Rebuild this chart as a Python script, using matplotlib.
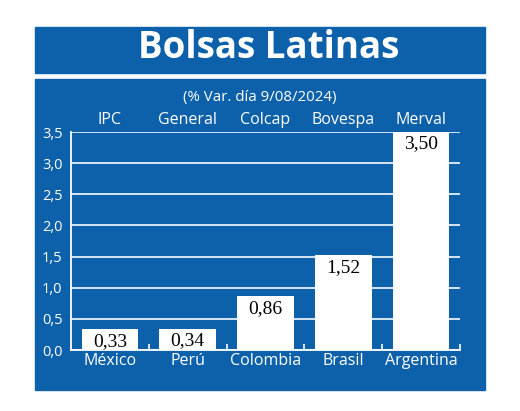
import matplotlib
matplotlib.use("Agg")
import matplotlib.pyplot as plt
from matplotlib.patches import Rectangle

countries = ["México", "Perú", "Colombia", "Brasil", "Argentina"]
indices = ["IPC", "General", "Colcap", "Bovespa", "Merval"]
values = [0.33, 0.34, 0.86, 1.52, 3.50]
yticks = [0.0, 0.5, 1.0, 1.5, 2.0, 2.5, 3.0, 3.5]
title = "Bolsas Latinas"
subtitle = "(% Var. día 9/08/2024)"

BLUE = "#0D61AB"
W, H = 520, 411
fig = plt.figure(figsize=(W / 100, H / 100), dpi=100, facecolor="white")

def fx(x):
    return x / W

def fy(y):
    return 1 - y / H

# background panels
fig.patches.append(Rectangle((fx(35), fy(73)), fx(485) - fx(35), fy(27) - fy(73),
                             transform=fig.transFigure, color=BLUE, zorder=-5))
fig.patches.append(Rectangle((fx(35), fy(390)), fx(485) - fx(35), fy(79) - fy(390),
                             transform=fig.transFigure, color=BLUE, zorder=-5))

fig.text(fx(269), fy(48), title, color="white", fontsize=26.5, fontweight="bold",
         family="Open Sans", ha="center", va="center")
fig.text(fx(260), fy(98), subtitle, color="white", fontsize=10.8,
         family="Open Sans", ha="center", va="center")

ax = fig.add_axes([fx(71), fy(350), fx(460) - fx(71), fy(132) - fy(350)])
ax.set_facecolor("none")
x = list(range(len(values)))
ax.bar(x, values, width=0.73, color="white", zorder=3)
ax.set_xlim(-0.5, 4.5)
ax.set_ylim(0, 3.5)
ax.set_yticks(yticks)
ax.set_yticklabels([f"{t:.1f}".replace(".", ",") for t in yticks],
                   color="white", fontsize=10.5, family="Open Sans")
ax.yaxis.grid(True, color="#e6f0fa", linewidth=1.3, zorder=1)
ax.set_axisbelow(True)
ax.tick_params(axis="y", length=0, pad=6)
ax.set_xticks([i + 0.5 for i in range(len(values))])
ax.set_xticklabels([])
ax.tick_params(axis="x", direction="in", length=4, color="white", width=1.2)
for s in ["top", "right"]:
    ax.spines[s].set_visible(False)
for s in ["left", "bottom"]:
    ax.spines[s].set_color("white")
    ax.spines[s].set_linewidth(1.3)

for i, v in enumerate(values):
    ax.annotate(f"{v:.2f}".replace(".", ","), (i, v), xytext=(0, -2.5),
                textcoords="offset points", ha="center", va="top",
                fontsize=14, family="Liberation Serif", color="black", zorder=4)
    ax.text(i, -0.05, countries[i], ha="center", va="top",
            color="white", fontsize=11.5, family="Open Sans")
    ax.text(i, 3.56, indices[i], ha="center", va="bottom",
            color="white", fontsize=11.5, family="Open Sans")

fig.savefig("out.png", dpi=100, facecolor="white")
